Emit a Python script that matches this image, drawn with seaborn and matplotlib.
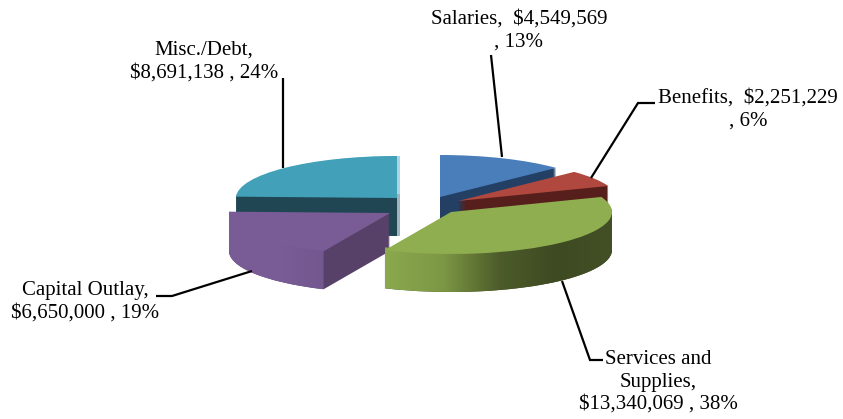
import numpy as np
import seaborn as sns
import matplotlib.pyplot as plt
from matplotlib.colors import LinearSegmentedColormap
from matplotlib.patches import Polygon

# chart data
names = ["Salaries", "Benefits", "Services and Supplies", "Capital Outlay", "Misc./Debt"]
values = [4549569, 2251229, 13340069, 6650000, 8691138]
labels = ["Salaries,  $4,549,569\n, 13%", "Benefits,  $2,251,229\n, 6%",
          "Services and\nSupplies,\n$13,340,069 , 38%", "Capital Outlay,\n$6,650,000 , 19%",
          "Misc./Debt,\n$8,691,138 , 24%"]

# look of the fake 3d pie
top_colors = ["#4a7ebb", "#b0483f", "#8fae50", "#795c96", "#42a0b8"]
side_colors = ["#234064", "#571f1b", "#3f4a22", "#574169", "#1f4652"]
rim_stops = {2: ["#8aa94d", "#7d9845", "#4d5c2a", "#3e4a22", "#435026"],
             3: ["#795c96", "#7a5c96", "#73578f"]}
apex_px = [(440, 197), (458, 201), (451, 212), (390, 213), (397, 198)]
label_px = [(519, 10), (748, 89), (658, 350), (85, 281), (204, 41)]
leaders = [[(491, 55), (502, 157)],
           [(655, 103), (638, 103), (591, 178)],
           [(603, 360), (590, 360), (562, 281)],
           [(156, 296), (172, 296), (252, 271)],
           [(283, 78), (283, 168)]]
order_z = [20, 30, 50, 40, 10]
RX, RY, DEPTH = 161.0, 42.0, 38

W, H = 843, 419
sns.set_theme(style="white")
plt.rcParams['font.family'] = ['Liberation Serif', 'DejaVu Serif']

fig = plt.figure(figsize=(W / 100, H / 100), dpi=100)
ax = fig.add_axes([0, 0, 1, 1])
ax.axis("off")


def to_unit(px, py):
    return px / RX, (H - py) / RY


def layer(colors, dy=0, dx=0, z=0, only=None):
    wedges, _ = ax.pie(values, startangle=90, counterclock=False, radius=1, colors=colors)
    for i, w in enumerate(wedges):
        if only is not None and i != only:
            w.remove()
            continue
        w.set_center(to_unit(apex_px[i][0] + dx, apex_px[i][1] + dy))
        w.set_zorder(order_z[i] + z)
        w.set_linewidth(0)


# thin pale edge behind the misc slice
layer(["#a9d6e3"] * 5, dx=3, z=-2, only=4)
layer(["#9fb4bb"] * 5, dx=3, dy=38, z=-2, only=4)

for d in range(DEPTH, 0, -1):
    layer(side_colors, dy=d, z=1)

# shaded rim on the two front slices, runs a bit under the top face
ends = np.cumsum(values) / np.sum(values) * 360
starts = np.r_[0, ends[:-1]]
for i, stops in rim_stops.items():
    a1, a2 = max(starts[i], 90), min(ends[i], 270)
    t = np.radians(np.linspace(a1, a2, 80))
    cx, cy = apex_px[i]
    xs = cx + RX * np.sin(t)
    ys = cy - RY * np.cos(t)
    outline = np.r_[np.c_[xs, ys - 3], np.c_[xs, ys + DEPTH][::-1]]
    outline = np.array([to_unit(a, b) for a, b in outline])
    cmap = LinearSegmentedColormap.from_list("rim%d" % i, stops)
    x0, x1 = xs.min() / RX, xs.max() / RX
    y0, y1 = outline[:, 1].min(), outline[:, 1].max()
    img = ax.imshow(np.linspace(0, 1, 200)[None, :], cmap=cmap, extent=(x0, x1, y0, y1),
                    aspect="auto", zorder=order_z[i] + 2)
    clip = Polygon(outline, closed=True, transform=ax.transData, fill=False, linewidth=0)
    ax.add_patch(clip)
    img.set_clip_path(clip)

layer(top_colors, z=3)

ax.set_aspect("auto")
ax.set_xlim(0, W / RX)
ax.set_ylim(0, H / RY)

# labels and leader lines go on a pixel sized overlay
over = fig.add_axes([0, 0, 1, 1])
over.patch.set_alpha(0)
over.axis("off")
over.set_xlim(0, W)
over.set_ylim(H, 0)
for pos, text, line in zip(label_px, labels, leaders):
    over.text(pos[0], pos[1], text, ha="center", va="top", fontsize=15, color="black",
              linespacing=1.25)
    over.plot([p[0] for p in line], [p[1] for p in line], color="black", lw=1.6,
              solid_capstyle="butt", solid_joinstyle="miter")

fig.savefig("out.png", dpi=100)
